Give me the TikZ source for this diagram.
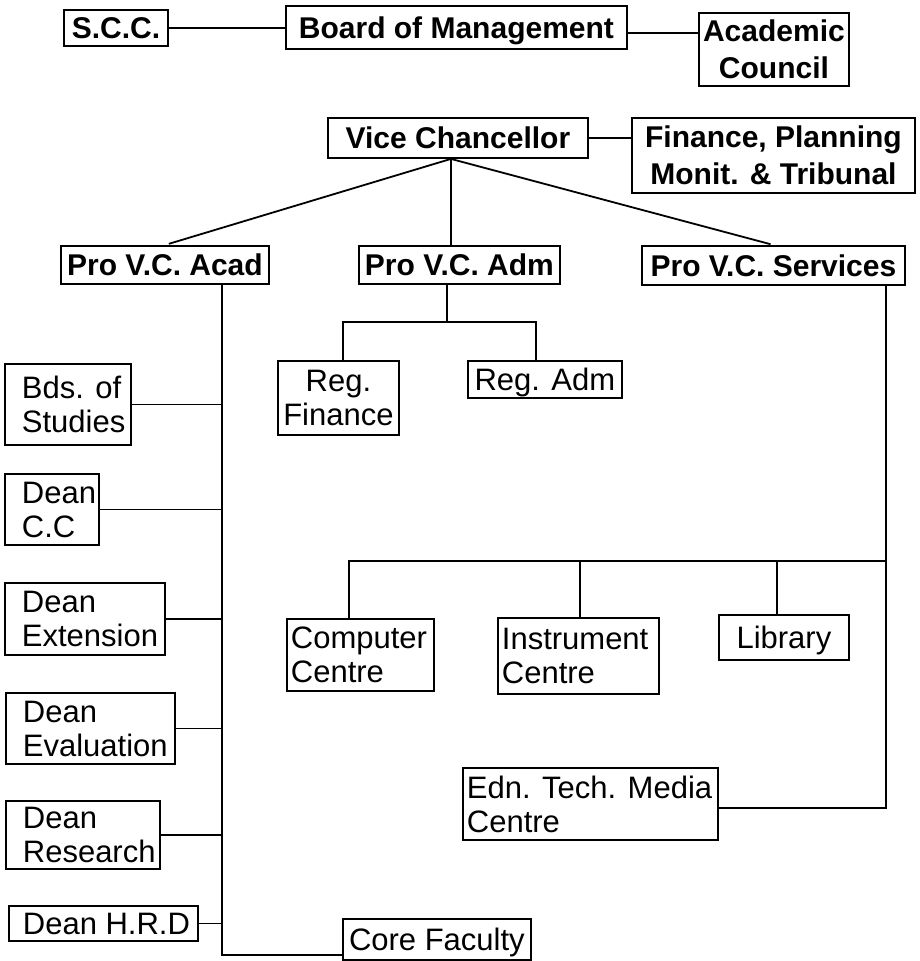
\documentclass[tikz,border=0pt]{standalone}
\usepackage{fontspec}
\setmainfont{Liberation Sans}
\usetikzlibrary{calc}
\newcommand{\padline}[3]{\makebox[#1pt][l]{\hspace*{#2pt}#3}}
\begin{document}
\begin{tikzpicture}[x=1pt,y=-1pt,
  hb/.style={draw, line width=1.9pt, font=\fontsize{30}{37}\selectfont\bfseries, align=center, inner sep=0pt, text depth=0pt, anchor=north west},
  bb/.style={draw, line width=1.8pt, font=\fontsize{31}{34}\selectfont, inner sep=0pt, text depth=0pt, anchor=north west},
  lb/.style={bb, align=left},
  ln/.style={line width=1.8pt}]
\useasboundingbox (0,0) rectangle (919,961);
% top rows
\node[hb, minimum width=104pt, minimum height=36pt] (scc) at (63,9) {S.C.C.};
\node[hb, minimum width=341pt, minimum height=43pt] (board) at (285,5) {Board of Management};
\node[hb, minimum width=150pt, minimum height=73pt] (acc) at (698,12) {Academic\\Council};
\node[hb, minimum width=260pt, minimum height=40pt] (vc) at (327,117) {Vice Chancellor};
\node[hb, minimum width=283pt, minimum height=75pt] (fin) at (631,117) {Finance, Planning\\Monit. \& Tribunal};
\node[hb, minimum width=208pt, minimum height=38pt] (pacad) at (60,245) {Pro V.C. Acad};
\node[hb, minimum width=201pt, minimum height=38pt] (padm) at (358,245) {Pro V.C. Adm};
\node[hb, minimum width=263pt, minimum height=39pt] (pserv) at (641,245) {Pro V.C. Services};
% academic column
\node[lb, minimum height=81pt] (bds) at (4,363) {\padline{126}{17}{Bds. of}\\\padline{126}{17}{Studies}};
\node[lb, minimum height=71pt] (dcc) at (4,473) {\padline{94}{17}{Dean}\\\padline{94}{17}{C.C}};
\node[lb, minimum height=72pt] (dext) at (4,582) {\padline{160}{17}{Dean}\\\padline{160}{17}{Extension}};
\node[lb, minimum height=71pt] (deval) at (5,692) {\padline{169}{17}{Dean}\\\padline{169}{17}{Evaluation}};
\node[lb, minimum height=68pt] (dres) at (5,800) {\padline{154}{17}{Dean}\\\padline{154}{17}{Research}};
\node[lb, minimum height=35pt] (dhrd) at (8,905) {\padline{189}{14}{Dean H.R.D}};
\node[bb, align=center, minimum width=188pt, minimum height=41pt] (core) at (342,918) {Core Faculty};
% administration
\node[bb, align=center, minimum width=121pt, minimum height=74pt] (regfin) at (277,360) {Reg.\\Finance};
\node[bb, align=center, minimum width=154pt, minimum height=37pt] (regadm) at (467,360) {Reg. Adm};
% services
\node[lb, minimum height=72pt] (comp) at (286,618) {\padline{147}{4}{Computer}\\\padline{147}{4}{Centre}};
\node[lb, minimum height=76pt] (instr) at (497,617) {\padline{161}{4}{Instrument}\\\padline{161}{4}{Centre}};
\node[bb, align=center, minimum width=130pt, minimum height=45pt] (lib) at (718,614) {Library};
\node[lb, minimum height=72pt] (edn) at (462,767) {\padline{255}{4}{Edn. Tech. Media}\\\padline{255}{4}{Centre}};
% coordinates
\coordinate (apex) at ($(vc.south)+(-7,0)$);
\coordinate (av) at (222,283);
\coordinate (ab) at (222,955);
\coordinate (admj) at (447,322);
\coordinate (admL) at (343,322);
\coordinate (admR) at (536,322);
\coordinate (sv) at (886,808);
\coordinate (sh) at (886,561);
\coordinate (c1) at (349,561);
\coordinate (c2) at (580,561);
\coordinate (c3) at (777,561);
% connectors
\draw[ln] (scc.east) -- (scc.east -| board.west);
\draw[ln] (board.east |- 0,33) -- (acc.west |- 0,33);
\draw[ln] (vc.east) -- (vc.east -| fin.west);
\draw[ln, shorten >=4pt] (apex) -- (pacad.north);
\draw[ln] (apex) -- (apex |- padm.north);
\draw[ln, shorten >=3pt] (apex) -- (pserv.north);
\draw[ln] (pacad.south -| av) -- (ab) -- (ab -| core.west);
\foreach \n in {bds,dcc,dext,deval,dres,dhrd}{
  \draw[ln] (\n.east) -- (\n.east -| av);
}
\draw[ln] (padm.south -| admj) -- (admj);
\draw[ln] (admL |- regfin.north) -- (admL) -- (admR) -- (admR |- regadm.north);
\draw[ln] (pserv.south -| sv) -- (sv) -- (sv -| edn.east);
\draw[ln] (c1 |- comp.north) -- (c1) -- (sh);
\draw[ln] (c2) -- (c2 |- instr.north);
\draw[ln] (c3) -- (c3 |- lib.north);
\end{tikzpicture}
\end{document}
